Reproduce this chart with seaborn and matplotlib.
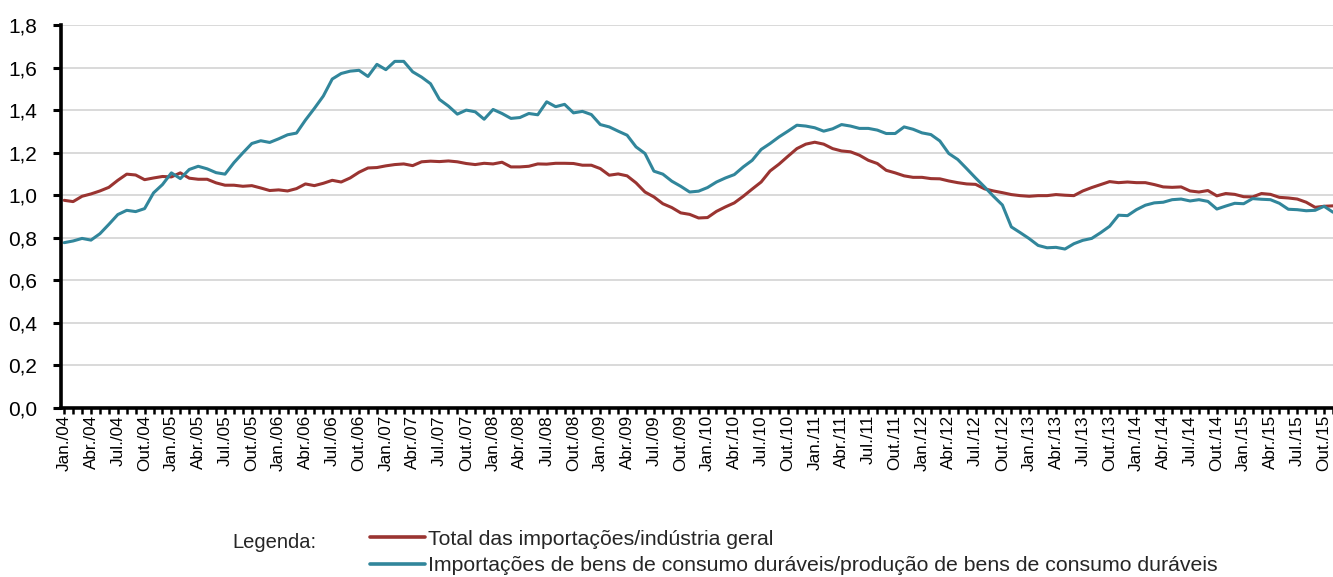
import numpy as np
import pandas as pd
import matplotlib
matplotlib.use("Agg")
import matplotlib.pyplot as plt
import seaborn as sns
from matplotlib.lines import Line2D

# ---------------- data ----------------
series_names = ["Total das importações/indústria geral",
                "Importações de bens de consumo duráveis/produção de bens de consumo duráveis"]

total_geral = [
    0.976, 0.970, 0.995, 1.006, 1.020, 1.037, 1.070, 1.099, 1.095, 1.073,
    1.081, 1.088, 1.086, 1.105, 1.080, 1.075, 1.075, 1.058, 1.047, 1.047,
    1.042, 1.045, 1.034, 1.022, 1.025, 1.020, 1.031, 1.053, 1.045, 1.056,
    1.070, 1.062, 1.081, 1.108, 1.128, 1.130, 1.138, 1.144, 1.147, 1.139,
    1.157, 1.160, 1.158, 1.161, 1.157, 1.149, 1.144, 1.150, 1.147, 1.155,
    1.133, 1.133, 1.136, 1.147, 1.146, 1.150, 1.150, 1.149, 1.141, 1.141,
    1.125, 1.094, 1.100, 1.091, 1.058, 1.015, 0.992, 0.960, 0.942, 0.917,
    0.910, 0.893, 0.895, 0.924, 0.945, 0.964, 0.995, 1.029, 1.062, 1.114,
    1.146, 1.183, 1.219, 1.240, 1.249, 1.240, 1.219, 1.208, 1.204, 1.188,
    1.164, 1.149, 1.117, 1.105, 1.091, 1.084, 1.084, 1.078, 1.077, 1.067,
    1.059, 1.053, 1.051, 1.030, 1.020, 1.012, 1.003, 0.998, 0.995, 0.998,
    0.998, 1.003, 1.000, 0.998, 1.020, 1.036, 1.050, 1.064, 1.059, 1.062,
    1.059, 1.059, 1.050, 1.039, 1.037, 1.039, 1.020, 1.015, 1.022, 0.997,
    1.008, 1.004, 0.993, 0.992, 1.008, 1.004, 0.990, 0.987, 0.982, 0.967,
    0.943, 0.948, 0.950,
]

duraveis = [
    0.777, 0.785, 0.797, 0.789, 0.819, 0.863, 0.909, 0.929, 0.923, 0.937,
    1.011, 1.050, 1.105, 1.078, 1.121, 1.136, 1.124, 1.106, 1.099, 1.153,
    1.199, 1.243, 1.256, 1.248, 1.265, 1.284, 1.292, 1.353, 1.408, 1.466,
    1.546, 1.572, 1.583, 1.587, 1.558, 1.615, 1.590, 1.629, 1.629, 1.580,
    1.555, 1.524, 1.450, 1.419, 1.381, 1.400, 1.392, 1.357, 1.403, 1.384,
    1.361, 1.365, 1.384, 1.378, 1.439, 1.416, 1.427, 1.387, 1.394, 1.379,
    1.332, 1.321, 1.301, 1.282, 1.227, 1.196, 1.113, 1.099, 1.066, 1.042,
    1.015, 1.019, 1.036, 1.062, 1.081, 1.097, 1.133, 1.164, 1.215, 1.243,
    1.274, 1.301, 1.329, 1.325, 1.317, 1.301, 1.312, 1.332, 1.325, 1.314,
    1.314, 1.306, 1.290, 1.290, 1.321, 1.310, 1.293, 1.285, 1.255, 1.196,
    1.168, 1.125, 1.081, 1.039, 0.995, 0.954, 0.851, 0.824, 0.796, 0.764,
    0.753, 0.755, 0.747, 0.772, 0.788, 0.797, 0.824, 0.854, 0.906, 0.904,
    0.932, 0.953, 0.964, 0.967, 0.979, 0.982, 0.973, 0.979, 0.971, 0.935,
    0.949, 0.962, 0.960, 0.984, 0.981, 0.979, 0.962, 0.934, 0.932, 0.927,
    0.929, 0.948, 0.920,
]

quarter_names = ["Jan.", "Abr.", "Jul.", "Out."]
years = ["04", "05", "06", "07", "08", "09", "10", "11", "12", "13", "14", "15"]
x_labels = [f"{q}/{y}" for y in years for q in quarter_names]

y_ticks = [0.0, 0.2, 0.4, 0.6, 0.8, 1.0, 1.2, 1.4, 1.6, 1.8]
y_labels = ["0,0", "0,2", "0,4", "0,6", "0,8", "1,0", "1,2", "1,4", "1,6", "1,8"]

colors = ["#9A3431", "#31869B"]

# ---------------- frame ----------------
n = len(total_geral)
month = np.arange(n)
df = pd.DataFrame({
    "mes": np.concatenate([month, month]),
    "valor": total_geral + duraveis,
    "serie": [series_names[0]] * n + [series_names[1]] * n,
})

sns.set_theme(style="white")
plt.rcParams["font.family"] = ["Liberation Sans", "DejaVu Sans"]

fig = plt.figure(figsize=(13.33, 5.77), dpi=100)
ax = fig.add_axes([0.0458, 0.2929, 0.9542, 0.6638])

sns.lineplot(data=df, x="mes", y="valor", hue="serie", hue_order=series_names,
             palette=colors, linewidth=2.2, ax=ax, legend=False)

ax.set_xlim(-0.35, 141.5)
ax.set_ylim(0, 1.8)
ax.set_yticks(y_ticks)
ax.set_yticklabels(y_labels, fontsize=15, color="black")
ax.set_xticks(np.arange(0, 3 * len(x_labels), 3))
ax.set_xticklabels(x_labels, rotation=90, fontsize=12.3, color="black")
ax.set_xticks(np.arange(0, n), minor=True)
ax.set_xlabel("")
ax.set_ylabel("")

ax.grid(axis="y", color="#D9D9D9", linewidth=1.4)
ax.grid(axis="x", visible=False)
ax.set_axisbelow(True)

for side in ["top", "right"]:
    ax.spines[side].set_visible(False)
for side in ["left", "bottom"]:
    ax.spines[side].set_color("black")
    ax.spines[side].set_linewidth(2.6)

ax.tick_params(axis="y", which="major", direction="out", length=6, width=2.2,
               color="black", left=True, pad=11)
ax.tick_params(axis="x", which="both", direction="out", length=4, width=1.8,
               color="black", bottom=True, pad=1)

# legend
handles = [Line2D([0], [0], color=c, linewidth=2.6) for c in colors]
fig.text(0.174, 0.060, "Legenda:", fontsize=14.5, va="center", ha="left")
fig.legend(handles, series_names, loc="upper left",
           bbox_to_anchor=(0.2776, 0.082), frameon=False, fontsize=15.3,
           handlelength=2.6, handletextpad=0.15, labelspacing=0.36,
           borderpad=0, borderaxespad=0)

fig.savefig("out.png", dpi=100)
